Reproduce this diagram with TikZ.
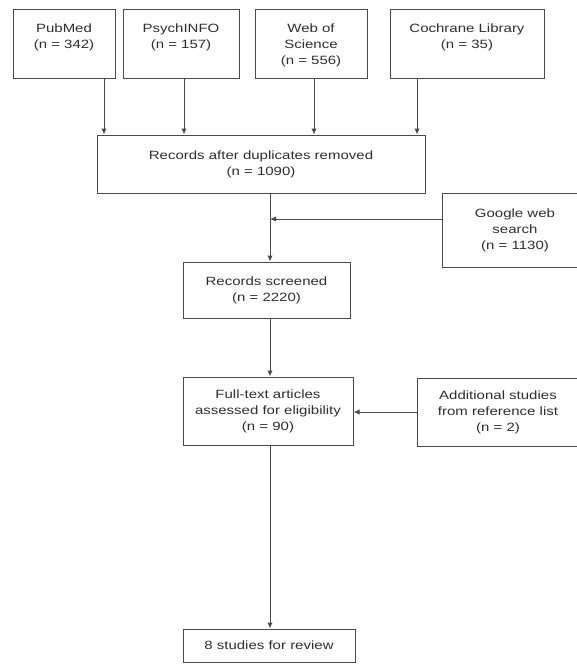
\documentclass[tikz,border=0pt]{standalone}
\usepackage{fontspec}
\setmainfont{Liberation Sans}[FakeStretch=1.25]
\usetikzlibrary{arrows.meta}
\definecolor{linegray}{HTML}{4A4A4A}
\definecolor{textgray}{HTML}{2E2E2E}

\begin{document}
\begin{tikzpicture}[
  x=0.75pt, y=-0.75pt,
  box/.style={draw=linegray, line width=0.75pt, inner sep=0pt},
  lbl/.style={text=textgray, align=center, font=\fontsize{9}{12}\selectfont},
  arr/.style={draw=linegray, line width=0.75pt, -{Latex[length=4.5pt,width=4pt]}}
  ]
  \useasboundingbox (0,0) rectangle (576,664);

  % databases
  \node[box, minimum width=76.5pt, minimum height=51.75pt] (pubmed) at (64,43.5) {};
  \node[lbl, below] at ([yshift=-8pt]pubmed.north) {PubMed\\(n = 342)};

  \node[box, minimum width=87pt, minimum height=51.75pt] (psych) at (181,43.5) {};
  \node[lbl, below] at ([yshift=-8pt]psych.north) {PsychINFO\\(n = 157)};

  \node[box, minimum width=84pt, minimum height=51.75pt] (wos) at (311,43.5) {};
  \node[lbl, below] at ([yshift=-8pt]wos.north) {Web of\\Science\\(n = 556)};

  \node[box, minimum width=115.5pt, minimum height=51.75pt] (coch) at (467,43.5) {};
  \node[lbl, below] at ([yshift=-8pt]coch.north) {Cochrane Library\\(n = 35)};

  % screening
  \node[box, lbl, minimum width=246pt, minimum height=43.5pt] (dup) at (261,164)
    {Records after duplicates removed\\(n = 1090)};

  \node[box, lbl, minimum width=109.5pt, minimum height=55.5pt] (google) at (515,230)
    {Google web\\search\\(n = 1130)};

  \node[box, lbl, minimum width=125.25pt, minimum height=42pt] (screened) at (266.5,290)
    {Records screened\\(n = 2220)};

  \node[box, lbl, minimum width=127.5pt, minimum height=51pt] (fulltext) at (268,411)
    {Full-text articles\\assessed for eligibility\\(n = 90)};

  \node[box, lbl, minimum width=121.5pt, minimum height=51pt] (additional) at (498,412)
    {Additional studies\\from reference list\\(n = 2)};

  \node[box, lbl, minimum width=129pt, minimum height=24.75pt] (final) at (269,645.5)
    {8 studies for review};

  \coordinate (join) at (270,219);

  \draw[arr] (pubmed.south -| 104,0) -- (dup.north -| 104,0);
  \draw[arr] (psych.south -| 184,0) -- (dup.north -| 184,0);
  \draw[arr] (wos.south -| 314,0) -- (dup.north -| 314,0);
  \draw[arr] (coch.south -| 417,0) -- (dup.north -| 417,0);

  \draw[arr] (dup.south -| join) -- (screened.north -| join);
  \draw[arr] (google.west |- join) -- (join);
  \draw[arr] (screened.south -| join) -- (fulltext.north -| join);
  \draw[arr] (additional.west) -- (additional.west -| fulltext.east);
  \draw[arr] (fulltext.south -| join) -- (final.north -| join);

\end{tikzpicture}
\end{document}
